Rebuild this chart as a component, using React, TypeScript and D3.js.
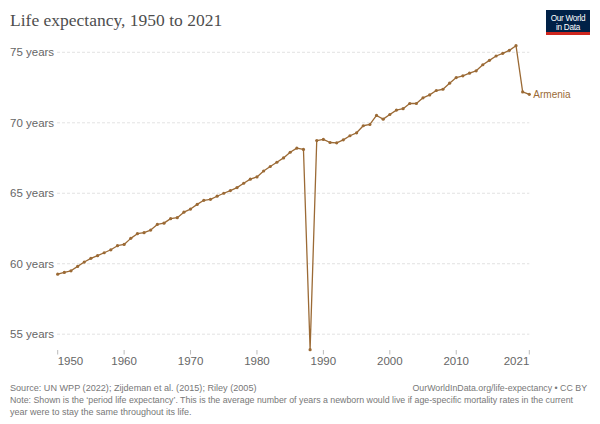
import React from 'react';
import * as d3 from 'd3';

const years = [
  1950, 1951, 1952, 1953, 1954, 1955, 1956, 1957, 1958, 1959,
  1960, 1961, 1962, 1963, 1964, 1965, 1966, 1967, 1968, 1969,
  1970, 1971, 1972, 1973, 1974, 1975, 1976, 1977, 1978, 1979,
  1980, 1981, 1982, 1983, 1984, 1985, 1986, 1987, 1988, 1989,
  1990, 1991, 1992, 1993, 1994, 1995, 1996, 1997, 1998, 1999,
  2000, 2001, 2002, 2003, 2004, 2005, 2006, 2007, 2008, 2009,
  2010, 2011, 2012, 2013, 2014, 2015, 2016, 2017, 2018, 2019,
  2020, 2021,
];

const armenia = [
  59.26, 59.38, 59.5, 59.81, 60.12, 60.38, 60.57, 60.78, 60.99, 61.28,
  61.37, 61.8, 62.13, 62.2, 62.39, 62.79, 62.88, 63.2, 63.27, 63.66,
  63.88, 64.21, 64.5, 64.57, 64.79, 65.0, 65.19, 65.4, 65.71, 66.0,
  66.16, 66.58, 66.9, 67.2, 67.51, 67.91, 68.2, 68.11, 53.9, 68.74,
  68.82, 68.6, 68.58, 68.79, 69.08, 69.29, 69.79, 69.88, 70.52, 70.26,
  70.59, 70.9, 71.0, 71.37, 71.37, 71.77, 71.98, 72.29, 72.38, 72.81,
  73.21, 73.33, 73.52, 73.69, 74.12, 74.43, 74.74, 74.93, 75.14, 75.47,
  72.19, 72.02,
];

const yTicks = [55, 60, 65, 70, 75];
const xTicks = [1950, 1960, 1970, 1980, 1990, 2000, 2010, 2021];

const W = 600;
const H = 424;
const lineColor = '#9b6a35';
const sans = '"Liberation Sans", Arial, Helvetica, sans-serif';

export default function App() {
  const x = d3.scaleLinear()
    .domain([years[0], years[years.length - 1]])
    .range([57.7, 529.3]);

  const y = d3.scaleLinear()
    .domain([d3.min(armenia) || 0, d3.max(armenia) || 80])
    .range([349.7, 45.7]);

  const pts = years.map((yr, i) => [yr, armenia[i]] as [number, number]);

  const line = d3.line<[number, number]>()
    .x(d => x(d[0]))
    .y(d => y(d[1]));

  const last = pts[pts.length - 1];

  return (
    <svg
      width={W}
      height={H}
      style={{ position: 'absolute', left: 0, top: 0, display: 'block', background: '#fff' }}
    >
      <text x={10} y={26} fontFamily='"Liberation Serif", "Times New Roman", serif' fontSize={17.5} fill="#4e4e4e">
        Life expectancy, 1950 to 2021
      </text>

      {/* logo */}
      <rect x={546} y={10} width={44} height={25} fill="#002147" />
      <rect x={546} y={32} width={44} height={3} fill="#ce261e" />
      <text x={568} y={20.5} textAnchor="middle" fontFamily={sans} fontSize={8.2} fill="#fff" letterSpacing={-0.3}>Our World</text>
      <text x={568} y={29.5} textAnchor="middle" fontFamily={sans} fontSize={8.2} fill="#fff" letterSpacing={-0.3}>in Data</text>

      {/* grid + y labels */}
      {yTicks.map(t => (
        <g key={t}>
          <line x1={57} x2={529.3} y1={y(t)} y2={y(t)} stroke="#dadada" strokeWidth={0.8} strokeDasharray="3,2" />
          <text x={10} y={y(t)} dy="0.35em" fontFamily={sans} fontSize={11.5} fill="#666">{t} years</text>
        </g>
      ))}

      {/* x ticks */}
      {xTicks.map((t, i) => (
        <g key={t}>
          <line x1={x(t)} x2={x(t)} y1={350} y2={354.5} stroke="#bbb" strokeWidth={1} />
          <text
            x={x(t)}
            y={365}
            textAnchor={i === 0 ? 'start' : i === xTicks.length - 1 ? 'end' : 'middle'}
            fontFamily={sans}
            fontSize={11.5}
            fill="#666"
          >
            {t}
          </text>
        </g>
      ))}

      {/* series */}
      <path d={line(pts) || ''} fill="none" stroke={lineColor} strokeWidth={1.3} strokeLinejoin="round" />
      {pts.map(d => (
        <circle key={d[0]} cx={x(d[0])} cy={y(d[1])} r={1.6} fill={lineColor} />
      ))}
      <text x={x(last[0]) + 4} y={y(last[1])} dy="0.35em" fontFamily={sans} fontSize={10} fill={lineColor}>
        Armenia
      </text>

      {/* footer */}
      <text x={10} y={390.5} fontFamily={sans} fontSize={9.1} fill="#777">
        Source: UN WPP (2022); Zijdeman et al. (2015); Riley (2005)
      </text>
      <text x={587} y={390.5} textAnchor="end" fontFamily={sans} fontSize={8.8} fill="#777">
        OurWorldInData.org/life-expectancy • CC BY
      </text>
      <text x={10} y={402.5} fontFamily={sans} fontSize={9} fill="#777" textLength={563} lengthAdjust="spacingAndGlyphs">
        Note: Shown is the ‘period life expectancy’. This is the average number of years a newborn would live if age-specific mortality rates in the current
      </text>
      <text x={10} y={414.5} fontFamily={sans} fontSize={9} fill="#777">
        year were to stay the same throughout its life.
      </text>
    </svg>
  );
}
